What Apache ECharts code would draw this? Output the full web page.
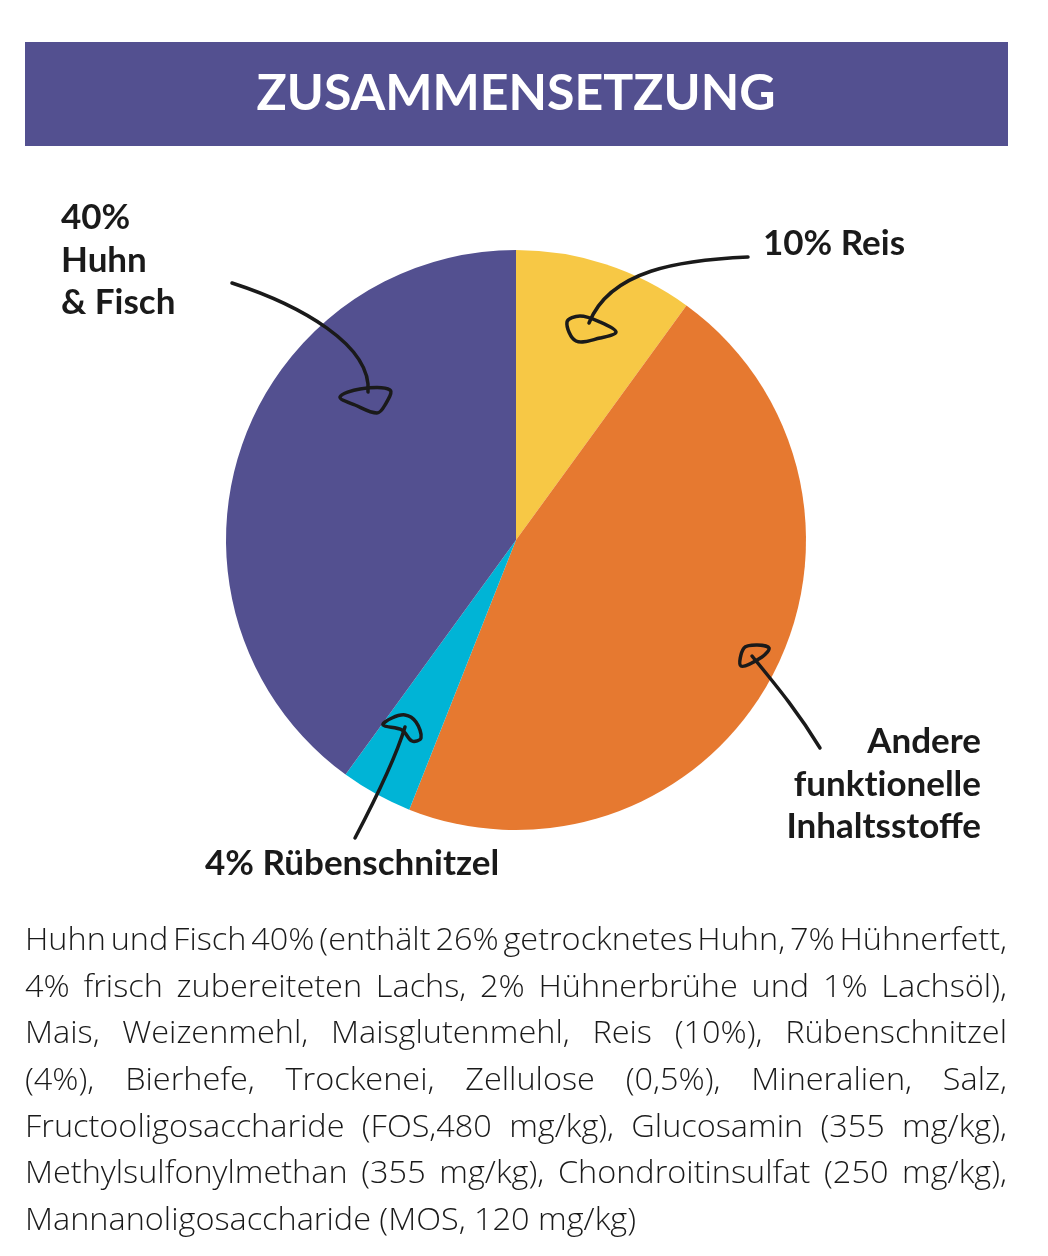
<!DOCTYPE html>
<html>
<head>
<meta charset="utf-8">
<script src="https://cdn.jsdelivr.net/npm/echarts@6/dist/echarts.min.js"></script>
<style>
html,body{margin:0;padding:0;background:#fff;}
#chart{width:1048px;height:1256px;}
</style>
</head>
<body>
<div id="chart"></div>
<script>
// ---- data ----
const titleText = 'ZUSAMMENSETZUNG';
const sliceNames = ['Reis', 'Andere funktionelle Inhaltsstoffe', 'Rübenschnitzel', 'Huhn & Fisch'];
const sliceValues = [10, 46, 4, 40];
const sliceColors = ['#f7c845', '#e67930', '#00b4d6', '#535090'];
const labelHuhn = ['40%', 'Huhn', '& Fisch'];
const labelReis = ['10% Reis'];
const labelAndere = ['Andere', 'funkt\u200Cionelle', 'Inhaltsstoffe'];
const labelRueben = ['4% Rübenschnitzel'];
const paragraphLines = [
  'Huhn und Fisch 40% (enthält 26% getrocknetes Huhn, 7% Hühnerfett,',
  '4% frisch zubereiteten Lachs, 2% Hühnerbrühe und 1% Lachsöl),',
  'Mais, Weizenmehl, Maisglutenmehl, Reis (10%), Rübenschnitzel',
  '(4%), Bierhefe, Trockenei, Zellulose (0,5%), Mineralien, Salz,',
  'Fructooligosaccharide (FOS,480 mg/kg), Glucosamin (355 mg/kg),',
  'Methylsulfonylmethan (355 mg/kg), Chondroitinsulfat (250 mg/kg),',
  'Mannanoligosaccharide (MOS, 120 mg/kg)'
];

// ---- styles ----
const INK = '#1a1a1a';
const labelFont = 'Lato';
const bodyFont = '"Open Sans"';
const bodySize = 31;
const bodyWeight = 300;

const chart = echarts.init(document.getElementById('chart'));

const graphics = [];
// title bar
graphics.push({type:'rect', shape:{x:25, y:42, width:983, height:104}, style:{fill:'#535090'}, z:1});
graphics.push({type:'text', x:516, y:94, z:2, style:{text:titleText, fill:'#fff', font:'bold 50px Lato', textAlign:'center', textVerticalAlign:'middle'}});

function addLines(lines, x, y0, lh, align){
  lines.forEach((t,i)=>graphics.push({type:'text', x:x, y:y0+i*lh, z:5,
    style:{text:t, fill:INK, font:'bold 35px '+labelFont, textAlign:align, textVerticalAlign:'middle'}}));
}
addLines(labelHuhn, 61, 218, 42.5, 'left');
addLines(labelReis, 763, 244, 42, 'left');
addLines(labelAndere, 981, 742, 42.5, 'right');
addLines(labelRueben, 205, 864, 42, 'left');

// hand-drawn arrows
const arrowStyle = {stroke:INK, lineWidth:3.5, fill:null, lineCap:'round', lineJoin:'round'};
function curve(x1,y1,cx1,cy1,cx2,cy2,x2,y2){
  graphics.push({type:'bezierCurve', z:6, shape:{x1,y1,x2,y2,cpx1:cx1,cpy1:cy1,cpx2:cx2,cpy2:cy2}, style:arrowStyle});
}
function loop(pts){
  graphics.push({type:'polygon', z:6, shape:{points:pts, smooth:0.35}, style:arrowStyle});
}
// Huhn & Fisch
curve(232,283, 300,305, 372,345, 368,392);
loop([[340,397],[360,389],[390,390],[385,405],[377,413],[355,405]]);
// Reis
curve(748,257, 680,260, 610,270, 589,323);
loop([[567,322],[580,316],[600,322],[616,332],[600,338],[576,341]]);
// Andere
curve(820,748, 800,715, 780,690, 752,656);
loop([[741,666],[744,648],[757,645],[769,648],[762,657]]);
// Rüben
curve(355,838, 375,800, 395,760, 405,727);
loop([[383,725],[392,718],[405,715],[416,722],[421,738],[412,741],[402,730]]);

// justified paragraph
const measure = document.createElement('canvas').getContext('2d');
const bodyFontStr = bodyWeight + ' ' + bodySize + 'px ' + bodyFont;
measure.font = bodyFontStr;
const left = 25, right = 1007, top0 = 941, lineH = 46.7;
// horizontal fit so that the unjustified last line spans as in the reference
const sx = 611 / measure.measureText(paragraphLines[paragraphLines.length-1]).width;
paragraphLines.forEach((line, i) => {
  const y = top0 + i*lineH;
  const last = i === paragraphLines.length - 1;
  if (last) {
    graphics.push({type:'text', x:left, y:y, scaleX:sx, z:5, style:{text:line, fill:INK, font:bodyFontStr, textAlign:'left', textVerticalAlign:'middle'}});
    return;
  }
  const words = line.split(' ');
  const widths = words.map(w => measure.measureText(w).width * sx);
  const total = widths.reduce((a,b)=>a+b,0);
  const gap = (right-left-total)/(words.length-1);
  let x = left;
  words.forEach((w,k)=>{
    graphics.push({type:'text', x:x, y:y, scaleX:sx, z:5, style:{text:w, fill:INK, font:bodyFontStr, textAlign:'left', textVerticalAlign:'middle'}});
    x += widths[k] + gap;
  });
});

chart.setOption({
  animation:false,
  backgroundColor:'#ffffff',
  series:[{
    type:'pie',
    center:[516,540],
    radius:[0,290],
    startAngle:90,
    clockwise:true,
    label:{show:false},
    labelLine:{show:false},
    itemStyle:{borderWidth:0},
    emphasis:{disabled:true},
    data: sliceNames.map((n,i)=>({name:n, value:sliceValues[i], itemStyle:{color:sliceColors[i]}}))
  }],
  graphic: graphics
});
</script>
</body>
</html>
